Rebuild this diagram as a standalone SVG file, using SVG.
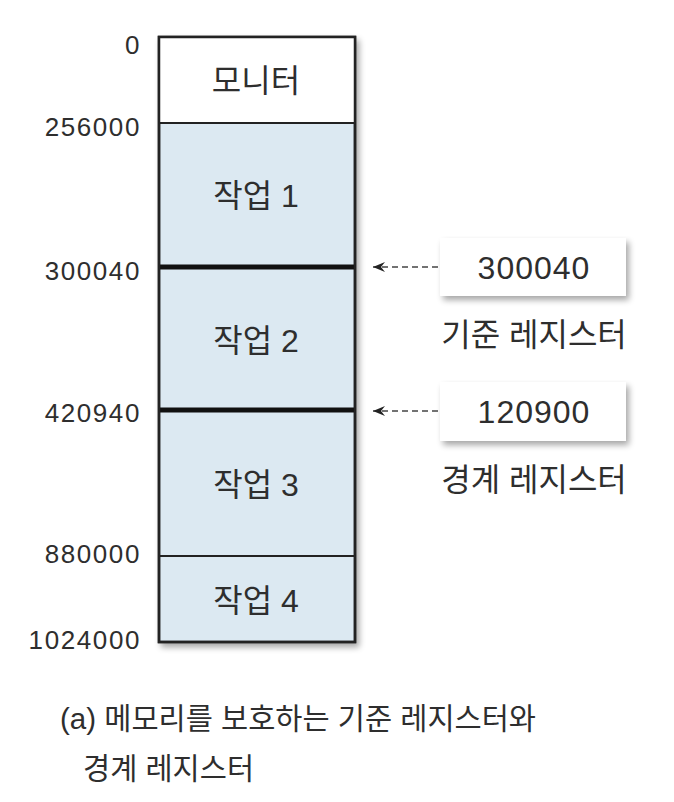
<svg xmlns="http://www.w3.org/2000/svg" width="674" height="802" viewBox="0 0 674 802">
<defs>
<style>
text{font-family:"Liberation Sans","Noto Sans CJK KR",sans-serif;fill:#2e2e2e}
.addr{font-size:26px;text-anchor:end;letter-spacing:1.6px}
.job{font-size:32px;text-anchor:middle}
.reg{font-size:32px;text-anchor:middle;letter-spacing:1px}
.rl{font-size:32px;text-anchor:middle}
.cap{font-size:29.5px}
.thin{stroke:#222;stroke-width:2}
.thick{stroke:#111;stroke-width:5}
.dash{stroke:#444;stroke-width:1.5;stroke-dasharray:6 4;fill:none}
</style>
<filter id="sh" x="-10%" y="-10%" width="130%" height="130%">
<feGaussianBlur in="SourceAlpha" stdDeviation="3"/>
<feOffset dx="3" dy="4"/>
<feComponentTransfer><feFuncA type="linear" slope="0.35"/></feComponentTransfer>
<feMerge><feMergeNode/><feMergeNode in="SourceGraphic"/></feMerge>
</filter>
<marker id="ah" markerWidth="12" markerHeight="10" refX="12" refY="5" orient="auto" markerUnits="userSpaceOnUse">
<path d="M0,0 L12,5 L0,10 L4,5 Z" fill="#222"/>
</marker>
</defs>
<rect width="674" height="802" fill="#fff"/>
<g id="memory">
<g filter="url(#sh)">
<rect x="159" y="37" width="196" height="605" fill="#dce9f2" stroke="#222" stroke-width="2.5"/>
</g>
<rect x="160" y="38" width="194" height="85" fill="#fff"/>
<line class="thin" x1="159" y1="123" x2="355" y2="123"/>
<line class="thick" x1="159" y1="267" x2="355" y2="267"/>
<line class="thick" x1="159" y1="410" x2="355" y2="410"/>
<line class="thin" x1="159" y1="556" x2="355" y2="556"/>
<rect x="159" y="37" width="196" height="605" fill="none" stroke="#222" stroke-width="2.5"/>
</g>
<g id="monitor"><text class="job" x="256" y="92">모니터</text></g>
<g id="job1"><text class="job" x="256" y="207">작업 1</text></g>
<g id="job2"><text class="job" x="256" y="352">작업 2</text></g>
<g id="job3"><text class="job" x="256" y="496">작업 3</text></g>
<g id="job4"><text class="job" x="256" y="612">작업 4</text></g>
<g id="addresses">
<text class="addr" x="141" y="54">0</text>
<text class="addr" x="141" y="136">256000</text>
<text class="addr" x="141" y="280">300040</text>
<text class="addr" x="141" y="422">420940</text>
<text class="addr" x="141" y="563">880000</text>
<text class="addr" x="141" y="649">1024000</text>
</g>
<g id="base-register">
<rect x="440" y="238" width="186" height="58" fill="#fff" filter="url(#sh)"/>
<text class="reg" x="534" y="279">300040</text>
<text class="rl" x="534" y="346">기준 레지스터</text>
</g>
<g id="limit-register">
<rect x="440" y="382" width="186" height="59" fill="#fff" filter="url(#sh)"/>
<text class="reg" x="534" y="423">120900</text>
<text class="rl" x="534" y="491">경계 레지스터</text>
</g>
<g id="connectors">
<line class="dash" x1="438" y1="267" x2="373" y2="267" marker-end="url(#ah)"/>
<line class="dash" x1="438" y1="411" x2="373" y2="411" marker-end="url(#ah)"/>
</g>
<g id="caption">
<text class="cap" x="60" y="729">(a) 메모리를 보호하는 기준 레지스터와</text>
<text class="cap" x="83" y="779">경계 레지스터</text>
</g>
</svg>
